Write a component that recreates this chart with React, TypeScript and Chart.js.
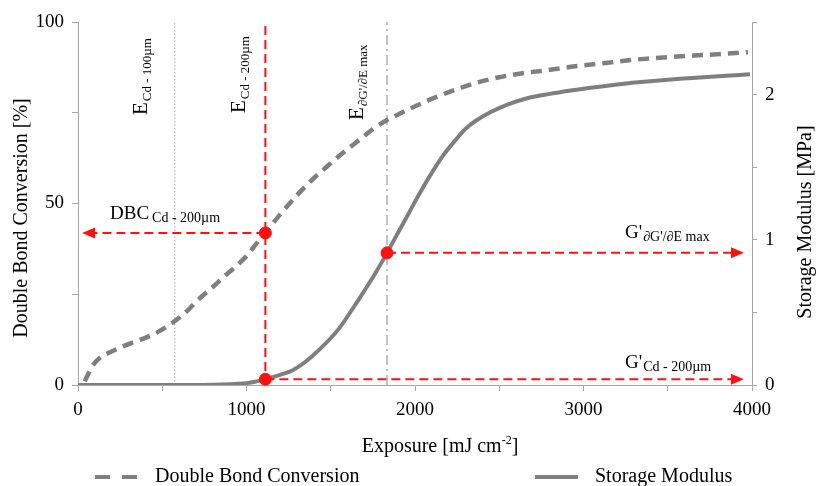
import React, { useEffect, useRef } from "react";
import { Chart, registerables } from "chart.js";

Chart.register(...registerables);

const FONT = "'Liberation Serif', 'Times New Roman', serif";
const GRAY = "#7f7f7f";
const AXIS = "#a6a6a6";
const RED = "#ff1010";

// Double bond conversion [%] vs exposure [mJ cm-2]
const dbcExposure = [40, 60, 90, 130, 190, 260, 330, 400, 470, 540, 600, 660, 720, 800, 870, 920, 1000, 1060, 1112, 1200, 1314, 1400, 1473, 1560, 1669, 1750, 1834, 1900, 1964, 2050, 2124, 2250, 2361, 2500, 2657, 2811, 2950, 3130, 3300, 3521, 3750, 3976];
const dbcValues = [1, 3, 5.5, 7.5, 9, 10.5, 11.8, 13, 14.5, 16.5, 18.5, 21, 23.8, 27, 30, 32, 35.5, 39, 41.9, 47, 53, 57, 60, 63.5, 67.5, 70.5, 73, 74.5, 76, 77.8, 79.3, 81.5, 83.2, 84.8, 86, 86.9, 87.8, 88.7, 89.6, 90.4, 91, 91.7];

// Storage modulus [MPa] vs exposure
const gExposure = [0, 700, 850, 950, 1000, 1050, 1112, 1200, 1272, 1350, 1473, 1550, 1627, 1700, 1770, 1834, 1900, 1964, 2006, 2083, 2160, 2250, 2300, 2361, 2450, 2556, 2650, 2750, 2852, 3030, 3200, 3325, 3500, 3621, 3800, 3988];
const gValues = [0, 0, 0.003, 0.008, 0.013, 0.022, 0.04, 0.07, 0.1, 0.16, 0.29, 0.39, 0.52, 0.65, 0.78, 0.91, 1.05, 1.185, 1.275, 1.43, 1.57, 1.70, 1.765, 1.82, 1.88, 1.935, 1.97, 1.995, 2.015, 2.045, 2.07, 2.085, 2.103, 2.113, 2.127, 2.14];

// Characteristic exposures and values
const E_CD_100 = 574;
const E_CD_200 = 1112;
const E_GMAX = 1834;
const DBC_AT_CD200 = 41.9;
const G_AT_CD200 = 0.04;
const G_AT_GMAX = 0.91;
const ARROW_LEFT_END = 24;
const ARROW_RIGHT_END = 3952;

// Axis ranges / ticks
const X_MIN = 0, X_MAX = 4000, X_STEP = 500, X_LABEL_STEP = 1000;
const Y_MIN = 0, Y_MAX = 100, Y_STEP = 25, Y_LABEL_STEP = 50;
const Y2_MIN = 0, Y2_MAX = 2.5, Y2_STEP = 0.5, Y2_LABEL_STEP = 1;

const pts = (xs: number[], ys: number[]) => xs.map((x, i) => ({ x, y: ys[i] }));

function drawSub(ctx: CanvasRenderingContext2D, x: number, y: number, main: string, sub: string, mainSize: number, subSize: number, gap: number, dy: number) {
  ctx.font = `${mainSize}px ${FONT}`;
  ctx.fillText(main, x, y);
  const w = ctx.measureText(main).width;
  ctx.font = `${subSize}px ${FONT}`;
  ctx.fillText(sub, x + w + gap, y + dy);
}

function arrowHead(ctx: CanvasRenderingContext2D, tipX: number, tipY: number, dir: number) {
  const len = 13, half = 5.5;
  ctx.beginPath();
  ctx.moveTo(tipX, tipY);
  ctx.lineTo(tipX - dir * len, tipY - half);
  ctx.lineTo(tipX - dir * len, tipY + half);
  ctx.closePath();
  ctx.fill();
}

const annotationPlugin = {
  id: "annotationPlugin",
  afterDatasetsDraw(chart: any) {
    const { ctx, scales } = chart;
    const { x, y, y2 } = scales;
    ctx.save();
    ctx.fillStyle = RED;
    arrowHead(ctx, x.getPixelForValue(ARROW_LEFT_END), y.getPixelForValue(DBC_AT_CD200), -1);
    arrowHead(ctx, x.getPixelForValue(ARROW_RIGHT_END), y2.getPixelForValue(G_AT_CD200), 1);
    arrowHead(ctx, x.getPixelForValue(ARROW_RIGHT_END), y2.getPixelForValue(G_AT_GMAX), 1);
    ctx.restore();
  },
  afterDraw(chart: any) {
    const { ctx } = chart;
    ctx.save();
    ctx.fillStyle = "#000";
    ctx.textAlign = "left";
    ctx.textBaseline = "alphabetic";

    // vertical labels
    const vlabel = (ax: number, ay: number, sub: string) => {
      ctx.save();
      ctx.translate(ax, ay);
      ctx.rotate(-Math.PI / 2);
      drawSub(ctx, 0, 0, "E", sub, 21, 13, 1, 4);
      ctx.restore();
    };
    vlabel(147, 115, "Cd - 100µm");
    vlabel(245, 113, "Cd - 200µm");
    vlabel(363, 120, "∂G'/∂E max");

    // horizontal labels
    drawSub(ctx, 110, 219, "DBC", "Cd - 200µm", 19, 14, 3, 3);
    drawSub(ctx, 625, 238, "G'", "∂G'/∂E max", 19, 14, 1, 3);
    drawSub(ctx, 625, 368, "G'", "Cd - 200µm", 19, 14, 1, 3);

    // axis titles
    ctx.font = `20px ${FONT}`;
    ctx.textAlign = "center";
    ctx.textBaseline = "middle";
    ctx.save();
    ctx.translate(22, 218);
    ctx.rotate(-Math.PI / 2);
    ctx.fillText("Double Bond Conversion [%]", 0, 0);
    ctx.restore();
    ctx.save();
    ctx.translate(806, 222);
    ctx.rotate(-Math.PI / 2);
    ctx.fillText("Storage Modulus [MPa]", 0, 0);
    ctx.restore();

    // x title with superscript
    ctx.textAlign = "left";
    ctx.textBaseline = "alphabetic";
    const p1 = "Exposure [mJ cm";
    const p2 = "-2";
    const p3 = "]";
    ctx.font = `20px ${FONT}`;
    const w1 = ctx.measureText(p1).width;
    const w3 = ctx.measureText(p3).width;
    ctx.font = `12px ${FONT}`;
    const w2 = ctx.measureText(p2).width;
    const total = w1 + w2 + w3;
    const sx = 440 - total / 2;
    const base = 452;
    ctx.font = `20px ${FONT}`;
    ctx.fillText(p1, sx, base);
    ctx.font = `12px ${FONT}`;
    ctx.fillText(p2, sx + w1, base - 8);
    ctx.font = `20px ${FONT}`;
    ctx.fillText(p3, sx + w1 + w2, base);

    // legend
    const ly = 477;
    ctx.strokeStyle = GRAY;
    ctx.lineWidth = 4;
    ctx.beginPath();
    ctx.moveTo(95, ly); ctx.lineTo(110, ly);
    ctx.moveTo(122, ly); ctx.lineTo(137, ly);
    ctx.moveTo(535, ly); ctx.lineTo(578, ly);
    ctx.stroke();
    ctx.textBaseline = "middle";
    ctx.font = `20px ${FONT}`;
    ctx.fillText("Double Bond Conversion", 155, ly);
    ctx.fillText("Storage Modulus", 595, ly);
    ctx.restore();
  },
};

export default function App() {
  const ref = useRef<HTMLCanvasElement | null>(null);

  useEffect(() => {
    if (!ref.current) return;
    const tickFont = { family: FONT, size: 19 };
    const redLine = (data: any[], axis: string) => ({
      data,
      yAxisID: axis,
      borderColor: RED,
      borderWidth: 2,
      borderDash: [9, 5],
      pointRadius: 0,
      order: 1,
    });
    const chart = new Chart(ref.current, {
      type: "line",
      data: {
        datasets: [
          {
            label: "points",
            data: [{ x: E_CD_200, y: DBC_AT_CD200 }],
            yAxisID: "y",
            showLine: false,
            pointRadius: 6,
            pointBackgroundColor: RED,
            pointBorderColor: RED,
            order: 0,
            clip: false,
          } as any,
          {
            label: "points2",
            data: [
              { x: E_CD_200, y: G_AT_CD200 },
              { x: E_GMAX, y: G_AT_GMAX },
            ],
            yAxisID: "y2",
            showLine: false,
            pointRadius: 6,
            pointBackgroundColor: RED,
            pointBorderColor: RED,
            order: 0,
            clip: false,
          } as any,
          { label: "vCd200", ...redLine([{ x: E_CD_200, y: Y_MIN }, { x: E_CD_200, y: Y_MAX }], "y") } as any,
          { label: "hDBC", ...redLine([{ x: E_CD_200, y: DBC_AT_CD200 }, { x: ARROW_LEFT_END + 10, y: DBC_AT_CD200 }], "y") } as any,
          { label: "hG200", ...redLine([{ x: E_CD_200, y: G_AT_CD200 }, { x: ARROW_RIGHT_END - 30, y: G_AT_CD200 }], "y2") } as any,
          { label: "hGmax", ...redLine([{ x: E_GMAX, y: G_AT_GMAX }, { x: ARROW_RIGHT_END - 30, y: G_AT_GMAX }], "y2") } as any,
          {
            label: "Double Bond Conversion",
            data: pts(dbcExposure, dbcValues),
            yAxisID: "y",
            borderColor: GRAY,
            borderWidth: 4.5,
            borderDash: [11, 7],
            pointRadius: 0,
            cubicInterpolationMode: "monotone",
            order: 2,
          } as any,
          {
            label: "Storage Modulus",
            data: pts(gExposure, gValues),
            yAxisID: "y2",
            borderColor: GRAY,
            borderWidth: 4,
            pointRadius: 0,
            cubicInterpolationMode: "monotone",
            order: 2,
          } as any,
          {
            label: "vCd100",
            data: [{ x: E_CD_100, y: Y_MIN }, { x: E_CD_100, y: Y_MAX }],
            yAxisID: "y",
            borderColor: "#b5b5b5",
            borderWidth: 1.2,
            borderDash: [1.5, 2],
            pointRadius: 0,
            order: 3,
          } as any,
          {
            label: "vGmax",
            data: [{ x: E_GMAX, y: Y_MIN }, { x: E_GMAX, y: Y_MAX }],
            yAxisID: "y",
            borderColor: "#b0b0b0",
            borderWidth: 1.5,
            borderDash: [10, 4, 2, 4],
            pointRadius: 0,
            order: 3,
          } as any,
        ],
      },
      options: {
        responsive: false,
        animation: false,
        devicePixelRatio: 1,
        layout: { padding: { top: 22, left: 0, right: 0, bottom: 0 } },
        plugins: { legend: { display: false }, tooltip: { enabled: false } },
        scales: {
          x: {
            type: "linear",
            min: X_MIN,
            max: X_MAX,
            ticks: {
              stepSize: X_STEP,
              font: tickFont,
              color: "#000",
              padding: 8,
              maxRotation: 0,
              callback: (v: any) => (Number(v) % X_LABEL_STEP === 0 ? String(v) : ""),
            },
            grid: { drawOnChartArea: false, tickLength: 6, color: AXIS, tickColor: AXIS },
            border: { color: AXIS, width: 1 },
            afterFit: (s: any) => { s.height = 101; },
          },
          y: {
            type: "linear",
            position: "left",
            min: Y_MIN,
            max: Y_MAX,
            ticks: {
              stepSize: Y_STEP,
              font: tickFont,
              color: "#000",
              padding: 8,
              callback: (v: any) => (Number(v) % Y_LABEL_STEP === 0 ? String(v) : ""),
            },
            grid: { drawOnChartArea: false, tickLength: 6, color: AXIS, tickColor: AXIS },
            border: { color: AXIS, width: 1 },
            afterFit: (s: any) => { s.width = 78; },
          },
          y2: {
            type: "linear",
            position: "right",
            min: Y2_MIN,
            max: Y2_MAX,
            ticks: {
              stepSize: Y2_STEP,
              font: tickFont,
              color: "#000",
              padding: 8,
              callback: (v: any) => (Math.abs(Number(v) % Y2_LABEL_STEP) < 1e-9 ? String(v) : ""),
            },
            grid: { drawOnChartArea: false, tickLength: 5, color: AXIS, tickColor: AXIS },
            border: { color: AXIS, width: 1 },
            afterFit: (s: any) => { s.width = 64; },
          },
        },
      } as any,
      plugins: [annotationPlugin],
    });
    return () => chart.destroy();
  }, []);

  return (
    <div style={{ position: "absolute", left: 0, top: 0, width: 816, height: 486, background: "#fff" }}>
      <canvas ref={ref} width={816} height={486} style={{ width: 816, height: 486 }} />
    </div>
  );
}
